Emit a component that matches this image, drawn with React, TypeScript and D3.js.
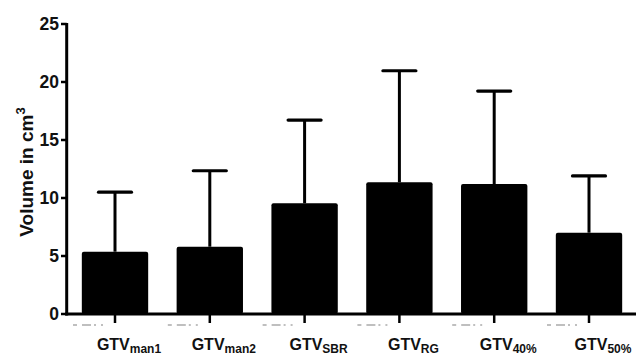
import React from "react";
import * as d3 from "d3";

const categories = ["man1", "man2", "SBR", "RG", "40%", "50%"];
const means = [5.37, 5.8, 9.54, 11.35, 11.2, 7.01];
const upper = [10.5, 12.35, 16.72, 20.97, 19.22, 11.9];
const yTicks = [0, 5, 10, 15, 20, 25];

const W = 636;
const H = 355;

export default function App() {
  const x = d3.scaleBand<string>().domain(categories).range([67.6, 636.4]).paddingInner(0.3).paddingOuter(0.15);
  const y = d3.scaleLinear().domain([0, 25]).range([314, 24]);
  const bw = x.bandwidth();
  const font = "Arial, 'Liberation Sans', Helvetica, sans-serif";
  return (
    <svg width={W} height={H} style={{ position: "absolute", left: 0, top: 0, background: "#fff" }} fontFamily={font}>
      {/* bars */}
      {categories.map((c, i) => {
        const cx = x(c)! + bw / 2;
        return (
          <g key={c}>
            <line x1={cx} x2={cx} y1={y(means[i])} y2={y(upper[i])} stroke="#000" strokeWidth={3} />
            <line x1={cx - 16.5} x2={cx + 16.5} y1={y(upper[i])} y2={y(upper[i])} stroke="#000" strokeWidth={3.2} strokeLinecap="round" />
            <rect x={x(c)} y={y(means[i])} width={bw} height={y(0) - y(means[i])} rx={2} fill="#000" />
          </g>
        );
      })}
      {/* y axis */}
      <line x1={66.7} x2={66.7} y1={y(25) - 1} y2={y(0) + 1.5} stroke="#000" strokeWidth={3} />
      {yTicks.map((t) => (
        <g key={t}>
          <line x1={61} x2={66.7} y1={y(t)} y2={y(t)} stroke="#000" strokeWidth={2.5} />
          <text x={59} y={y(t)} dy="0.36em" textAnchor="end" fontSize={17.5} fontWeight="bold" fill="#111">
            {t}
          </text>
        </g>
      ))}
      {/* x axis */}
      <line x1={65.2} x2={636} y1={y(0)} y2={y(0)} stroke="#000" strokeWidth={3} />
      {categories.map((c) => {
        const cx = x(c)! + bw / 2;
        return (
          <g key={c}>
            <line x1={cx} x2={cx} y1={y(0)} y2={y(0) + 9} stroke="#000" strokeWidth={2.5} />
            <line x1={cx - 42} x2={cx - 8} y1={325} y2={325} stroke="#aaa" strokeWidth={1.5} strokeDasharray="4 5 9 3 2 5 2 4" />
            <text x={cx + 14} y={350} textAnchor="middle" fontSize={16} fontWeight="bold" fill="#111">
              GTV
              <tspan fontSize={12} dy={3}>{c}</tspan>
            </text>
          </g>
        );
      })}
      {/* y label */}
      <text transform={`translate(33,${172}) rotate(-90)`} textAnchor="middle" fontSize={19} fontWeight="bold" fill="#111">
        Volume in cm
        <tspan fontSize={13} dy={-8}>3</tspan>
      </text>
    </svg>
  );
}
